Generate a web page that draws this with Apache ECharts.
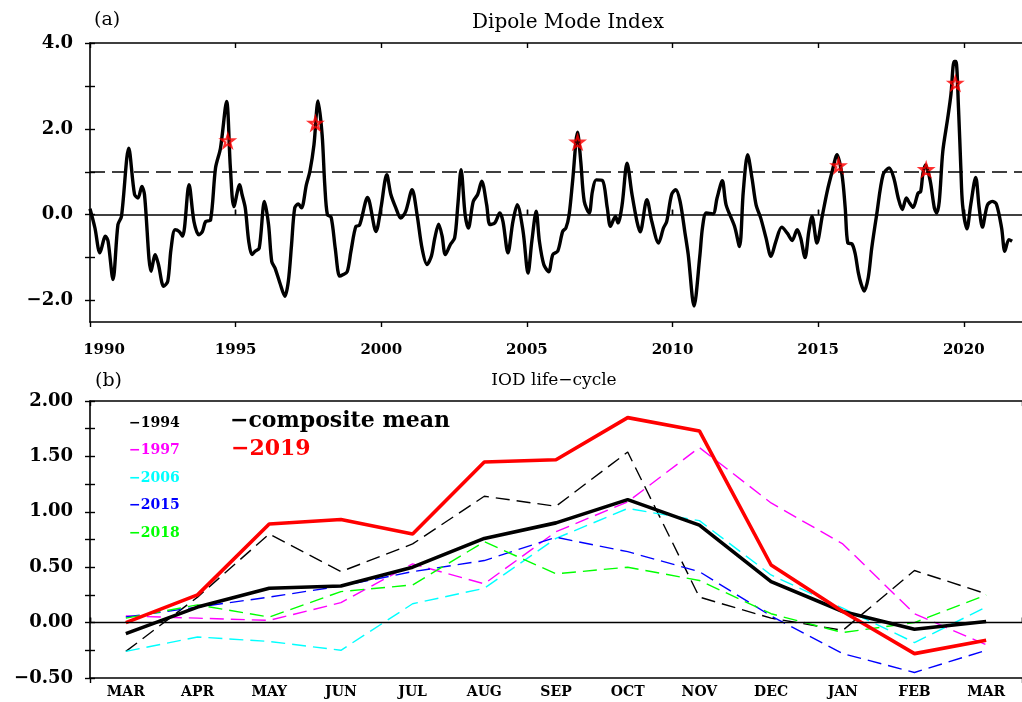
<!DOCTYPE html>
<html>
<head>
<meta charset="utf-8">
<script src="https://cdn.jsdelivr.net/npm/echarts@6/dist/echarts.min.js"></script>
<style>
html, body { margin: 0; padding: 0; background: #ffffff; }
#chart { width: 1022px; height: 702px; }
</style>
</head>
<body>
<div id="chart"></div>
<script>
// (a) Dipole Mode Index, smoothed monthly series (decimal year / index value)
const dmiYears = [
  1990.00, 1990.17, 1990.34, 1990.53, 1990.62, 1990.79, 1990.96, 1991.08, 1991.33, 1991.53,
  1991.65, 1991.78, 1991.87, 1992.10, 1992.24, 1992.35, 1992.53, 1992.67, 1992.78, 1992.92,
  1993.06, 1993.18, 1993.40, 1993.57, 1993.74, 1993.86, 1993.97, 1994.14, 1994.31, 1994.48,
  1994.69, 1994.82, 1994.94, 1995.14, 1995.22, 1995.33, 1995.45, 1995.56, 1995.67, 1995.81,
  1995.99, 1996.13, 1996.24, 1996.35, 1996.52, 1996.69, 1996.81, 1996.92, 1997.03, 1997.15,
  1997.26, 1997.43, 1997.55, 1997.69, 1997.83, 1997.97, 1998.06, 1998.15, 1998.28, 1998.42,
  1998.57, 1998.68, 1998.83, 1998.96, 1999.13, 1999.25, 1999.53, 1999.82, 1999.99, 2000.19,
  2000.33, 2000.50, 2000.67, 2000.84, 2001.06, 2001.23, 2001.40, 2001.57, 2001.72, 2001.84,
  2001.97, 2002.09, 2002.20, 2002.37, 2002.52, 2002.63, 2002.74, 2002.88, 2002.99, 2003.16,
  2003.31, 2003.45, 2003.62, 2003.73, 2003.90, 2004.07, 2004.18, 2004.35, 2004.52, 2004.67,
  2004.87, 2005.04, 2005.17, 2005.32, 2005.43, 2005.58, 2005.75, 2005.89, 2006.06, 2006.23,
  2006.34, 2006.45, 2006.57, 2006.74, 2006.85, 2006.97, 2007.14, 2007.25, 2007.38, 2007.59,
  2007.76, 2007.87, 2008.04, 2008.13, 2008.27, 2008.44, 2008.61, 2008.78, 2008.89, 2009.12,
  2009.29, 2009.52, 2009.69, 2009.80, 2009.97, 2010.11, 2010.26, 2010.43, 2010.54, 2010.74,
  2010.94, 2011.03, 2011.16, 2011.39, 2011.53, 2011.71, 2011.84, 2012.13, 2012.30, 2012.43,
  2012.58, 2012.73, 2012.87, 2013.03, 2013.21, 2013.38, 2013.55, 2013.75, 2013.94, 2014.11,
  2014.28, 2014.40, 2014.55, 2014.68, 2014.79, 2014.96, 2015.14, 2015.31, 2015.48, 2015.65,
  2015.82, 2015.93, 2016.02, 2016.16, 2016.27, 2016.38, 2016.47, 2016.58, 2016.72, 2016.84,
  2017.01, 2017.23, 2017.44, 2017.60, 2017.75, 2017.89, 2018.03, 2018.14, 2018.26, 2018.43,
  2018.52, 2018.60, 2018.69, 2018.85, 2018.99, 2019.07, 2019.16, 2019.28, 2019.45, 2019.56,
  2019.67, 2019.73, 2019.82, 2019.90, 2019.96, 2020.11, 2020.24, 2020.41, 2020.53, 2020.64,
  2020.81, 2020.98, 2021.12, 2021.30, 2021.41, 2021.55, 2021.66
];
const dmiValues = [
  0.14, -0.31, -0.89, -0.50, -0.62, -1.51, -0.23, -0.04, 1.55, 0.47,
  0.39, 0.66, 0.47, -1.32, -0.93, -1.16, -1.67, -1.55, -0.81, -0.35,
  -0.39, -0.50, 0.70, -0.16, -0.47, -0.39, -0.16, -0.12, 1.09, 1.55,
  2.64, 1.09, 0.19, 0.70, 0.47, 0.16, -0.62, -0.93, -0.85, -0.78,
  0.31, -0.23, -1.09, -1.24, -1.59, -1.90, -1.55, -0.70, 0.16, 0.25,
  0.16, 0.70, 1.01, 1.63, 2.65, 1.86, 0.70, 0.00, -0.06, -0.78,
  -1.43, -1.40, -1.33, -0.85, -0.27, -0.25, 0.40, -0.39, 0.16, 0.93,
  0.47, 0.16, -0.08, 0.08, 0.58, 0.00, -0.78, -1.16, -0.97, -0.54,
  -0.22, -0.50, -0.93, -0.70, -0.54, 0.23, 1.05, 0.00, -0.31, 0.31,
  0.47, 0.78, 0.23, -0.23, -0.19, 0.04, -0.16, -0.89, -0.16, 0.23,
  -0.39, -1.36, -0.62, 0.08, -0.62, -1.16, -1.33, -0.93, -0.85, -0.39,
  -0.31, 0.00, 0.78, 1.92, 1.24, 0.31, 0.04, 0.54, 0.81, 0.80,
  0.16, -0.27, -0.04, -0.19, 0.23, 1.20, 0.47, -0.16, -0.40, 0.35,
  -0.16, -0.66, -0.31, -0.16, 0.47, 0.58, 0.31, -0.43, -0.93, -2.13,
  -0.95, -0.30, 0.04, 0.02, 0.39, 0.79, 0.23, -0.27, -0.74, 0.54,
  1.40, 0.85, 0.23, -0.08, -0.54, -0.97, -0.62, -0.29, -0.43, -0.60,
  -0.35, -0.54, -1.00, -0.39, -0.04, -0.66, -0.04, 0.54, 1.00, 1.40,
  0.93, 0.16, -0.66, -0.68, -0.90, -1.35, -1.60, -1.78, -1.47, -0.78,
  0.00, 0.93, 1.09, 0.85, 0.39, 0.12, 0.39, 0.27, 0.17, 0.50,
  0.54, 0.97, 1.16, 0.78, 0.16, 0.04, 0.31, 1.47, 2.25, 2.80,
  3.57, 3.57, 2.48, 1.09, 0.23, -0.33, 0.23, 0.87, 0.16, -0.29,
  0.22, 0.31, 0.25, -0.31, -0.85, -0.58, -0.62
];
// positive IOD event markers
const eventYears = [1994.73, 1997.74, 2006.74, 2015.70, 2018.71, 2019.71];
const eventValues = [1.72, 2.13, 1.69, 1.14, 1.05, 3.06];
const dmiYearTicks = [1990, 1995, 2000, 2005, 2010, 2015, 2020];
const dmiValueTicks = [-2, -1, 0, 1, 2, 3, 4];
const dmiValueLabels = [-2, 0, 2, 4];

// (b) IOD life-cycle, March to the following March
const months = ['MAR', 'APR', 'MAY', 'JUN', 'JUL', 'AUG', 'SEP', 'OCT', 'NOV', 'DEC', 'JAN', 'FEB', 'MAR'];
const cycle1994 = [-0.26, 0.23, 0.80, 0.46, 0.71, 1.14, 1.05, 1.54, 0.23, 0.04, -0.07, 0.47, 0.26];
const cycle1997 = [0.06, 0.04, 0.02, 0.18, 0.53, 0.35, 0.82, 1.09, 1.58, 1.08, 0.71, 0.08, -0.20];
const cycle2006 = [-0.26, -0.13, -0.17, -0.25, 0.17, 0.31, 0.76, 1.03, 0.92, 0.43, 0.13, -0.18, 0.14];
const cycle2015 = [0.05, 0.14, 0.23, 0.33, 0.46, 0.56, 0.77, 0.64, 0.46, 0.06, -0.28, -0.45, -0.25];
const cycle2018 = [0.04, 0.16, 0.05, 0.28, 0.34, 0.73, 0.44, 0.50, 0.38, 0.08, -0.09, 0.00, 0.25];
const cycleMean = [-0.10, 0.14, 0.31, 0.33, 0.50, 0.76, 0.90, 1.11, 0.88, 0.37, 0.10, -0.06, 0.01];
const cycle2019 = [0.00, 0.25, 0.89, 0.93, 0.80, 1.45, 1.47, 1.85, 1.73, 0.52, 0.10, -0.28, -0.16];
const cycleValueTicks = [-0.5, -0.25, 0, 0.25, 0.5, 0.75, 1, 1.25, 1.5, 1.75, 2];
const cycleValueLabels = [-0.5, 0, 0.5, 1, 1.5, 2];

const BLACK = '#000000';
const SERIF = '"DejaVu Serif", "Liberation Serif", serif';
const minus = (s) => s.replace('-', '\u2212');
const janIndex = months.indexOf('JAN');

const axisLine = { show: true, onZero: false, lineStyle: { color: BLACK, width: 1.6 } };
const noLine = { show: false };
const tickStyle = { color: BLACK, width: 1.4 };
const labelFont = (size) => ({ color: BLACK, fontFamily: SERIF, fontWeight: 'bold', fontSize: size });

const STAR = 'path://M50,2 L61,37 L98,37 L68,59 L79,95 L50,73 L21,95 L32,59 L2,37 L39,37 Z';

function yearAxis(position, inside, withLine, withLabels) {
  return {
    type: 'value', gridIndex: 0, position: position, min: 1990, max: 2022,
    axisLine: withLine ? axisLine : noLine,
    axisTick: { show: true, inside: inside, length: 5, lineStyle: tickStyle, customValues: dmiYearTicks },
    axisLabel: withLabels ? Object.assign(labelFont(15), {
      margin: 21, customValues: dmiYearTicks,
      formatter: (v) => (v === 1990 ? '{first|1990}' : String(v)),
      rich: { first: Object.assign(labelFont(15), { padding: [0, 0, 0, 28] }) }
    }) : { show: false },
    splitLine: { show: false }
  };
}

function monthAxis(position, inside, withLine, withLabels) {
  return {
    type: 'category', gridIndex: 1, position: position, data: months, boundaryGap: true,
    axisLine: withLine ? axisLine : noLine,
    axisTick: { show: true, inside: inside, length: 5, lineStyle: tickStyle, interval: (i) => i === janIndex },
    axisLabel: withLabels ? Object.assign(labelFont(14), { margin: 7, interval: 0 }) : { show: false },
    splitLine: { show: false }
  };
}

function valueAxis(grid, min, max, ticks, labels, digits, size, inside, withLine) {
  return {
    type: 'value', gridIndex: grid, position: 'left', min: min, max: max,
    axisLine: withLine ? axisLine : noLine,
    axisTick: { show: true, inside: inside, length: 5, lineStyle: tickStyle, customValues: ticks },
    axisLabel: withLine ? Object.assign(labelFont(size), {
      margin: 17, customValues: labels, formatter: (v) => minus(v.toFixed(digits))
    }) : { show: false },
    splitLine: { show: false }
  };
}

function cycleLine(name, data, color, width, dashed) {
  return {
    name: name, type: 'line', xAxisIndex: 4, yAxisIndex: 2, data: data,
    symbol: 'none', silent: true,
    lineStyle: { color: color, width: width, type: dashed ? [14, 7] : 'solid' }
  };
}

const legendSmall = [
  ['\u22121994', BLACK], ['\u22121997', '#ff00ff'], ['\u22122006', '#00ffff'],
  ['\u22122015', '#0000ff'], ['\u22122018', '#00ff00']
];

const graphics = [
  { type: 'text', x: 94, y: 20, style: { text: '(a)', fill: BLACK, font: '19px ' + SERIF, textVerticalAlign: 'middle' } },
  { type: 'text', x: 568, y: 23, style: { text: 'Dipole Mode Index', fill: BLACK, font: '20px ' + SERIF, textAlign: 'center', textVerticalAlign: 'middle' } },
  { type: 'text', x: 95, y: 381, style: { text: '(b)', fill: BLACK, font: '19px ' + SERIF, textVerticalAlign: 'middle' } },
  { type: 'text', x: 554, y: 381, style: { text: 'IOD life\u2212cycle', fill: BLACK, font: '17px ' + SERIF, textAlign: 'center', textVerticalAlign: 'middle' } },
  { type: 'text', x: 230, y: 421, style: { text: '\u2212composite mean', fill: BLACK, font: 'bold 22px ' + SERIF, textVerticalAlign: 'middle' } },
  { type: 'text', x: 231, y: 449, style: { text: '\u22122019', fill: '#ff0000', font: 'bold 22px ' + SERIF, textVerticalAlign: 'middle' } }
];
legendSmall.forEach((item, i) => {
  graphics.push({
    type: 'text', x: 129, y: 423 + i * 27.5,
    style: { text: item[0], fill: item[1], font: 'bold 14px ' + SERIF, textVerticalAlign: 'middle' }
  });
});

const option = {
  animation: false,
  backgroundColor: '#ffffff',
  grid: [
    { left: 90, top: 43, width: 940, height: 279 },
    { left: 90, top: 401, width: 940, height: 277 }
  ],
  xAxis: [
    yearAxis('bottom', false, true, true),
    yearAxis('bottom', true, false, false),
    yearAxis('top', true, true, false),
    yearAxis('top', false, false, false),
    monthAxis('bottom', false, true, true),
    monthAxis('bottom', true, false, false),
    monthAxis('top', true, true, false),
    monthAxis('top', false, false, false)
  ],
  yAxis: [
    valueAxis(0, -2.5, 4, dmiValueTicks, dmiValueLabels, 1, 18, false, true),
    valueAxis(0, -2.5, 4, dmiValueTicks, dmiValueLabels, 1, 18, true, false),
    valueAxis(1, -0.5, 2, cycleValueTicks, cycleValueLabels, 2, 18, false, true),
    valueAxis(1, -0.5, 2, cycleValueTicks, cycleValueLabels, 2, 18, true, false)
  ],
  series: [
    {
      name: 'DMI', type: 'line', xAxisIndex: 0, yAxisIndex: 0,
      data: dmiYears.map((y, i) => [y, dmiValues[i]]),
      symbol: 'none', smooth: 0.3, silent: true,
      lineStyle: { color: BLACK, width: 3.4 },
      markLine: {
        symbol: 'none', silent: true, label: { show: false },
        data: [
          { yAxis: 0, lineStyle: { color: BLACK, width: 1.5, type: 'solid' } },
          { yAxis: 1, lineStyle: { color: BLACK, width: 1.5, type: [15, 7] } }
        ]
      },
      z: 3
    },
    {
      name: 'events', type: 'scatter', xAxisIndex: 0, yAxisIndex: 0,
      data: eventYears.map((y, i) => [y, eventValues[i]]),
      symbol: STAR, symbolSize: 13, silent: true,
      itemStyle: { color: 'rgba(255,0,0,0.25)', borderColor: '#ff0000', borderWidth: 2 },
      z: 4
    },
    Object.assign(cycleLine('1994', cycle1994, BLACK, 1.4, true), {
      markLine: {
        symbol: 'none', silent: true, label: { show: false },
        data: [{ yAxis: 0, lineStyle: { color: BLACK, width: 1.3, type: 'solid' } }]
      }
    }),
    cycleLine('1997', cycle1997, '#ff00ff', 1.4, true),
    cycleLine('2006', cycle2006, '#00ffff', 1.4, true),
    cycleLine('2015', cycle2015, '#0000ff', 1.4, true),
    cycleLine('2018', cycle2018, '#00ff00', 1.4, true),
    cycleLine('composite mean', cycleMean, BLACK, 3.6, false),
    cycleLine('2019', cycle2019, '#ff0000', 3.6, false)
  ],
  graphic: graphics
};

const chart = echarts.init(document.getElementById('chart'), null, { renderer: 'canvas' });
chart.setOption(option);
</script>
</body>
</html>
